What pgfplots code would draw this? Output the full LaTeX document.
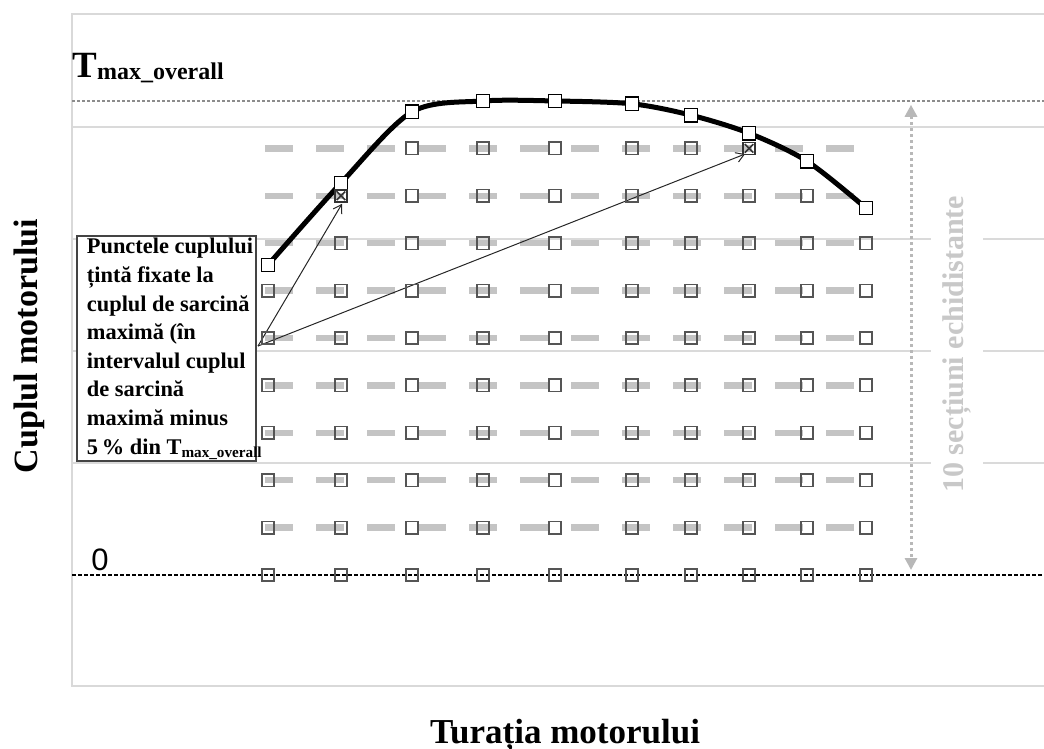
\documentclass[border=0pt]{standalone}
\usepackage{pgfplots}
\pgfplotsset{compat=1.18}
\usepackage{fontspec}
\setmainfont{Liberation Serif}
\newfontfamily\sansf{Liberation Sans}
\usetikzlibrary{arrows.meta}
\definecolor{gridc}{HTML}{DADADA}
\definecolor{bordc}{HTML}{D9D9D9}
\definecolor{rowc}{HTML}{C4C4C4}
\definecolor{markc}{HTML}{555555}
\definecolor{tmaxc}{HTML}{8C8C8C}
\definecolor{dblc}{HTML}{B8B8B8}
\definecolor{txtgray}{HTML}{C8C8C8}
\definecolor{boxc}{HTML}{444444}
\begin{document}
\begin{tikzpicture}
\begin{axis}[
  at={(36pt,31.5pt)}, anchor=south west,
  scale only axis, width=486pt, height=336pt,
  xmin=0, xmax=972, ymin=-23.42, ymax=118.35,
  axis line style={draw=none},
  xtick=\empty, ytick={23.63,47.26,70.89,94.52}, yticklabels={},
  major tick length=0pt,
  ymajorgrids, grid style={line width=1pt, color=gridc},
  clip=false,
]
% plot area border
\draw[line width=1pt, bordc] (rel axis cs:1,1) -- (rel axis cs:0,1) -- (rel axis cs:0,0) -- (rel axis cs:1,0);

% T max line
\addplot[tmaxc, line width=1pt, dash pattern=on 1.5pt off 1pt] coordinates {(0,100) (972,100)};

% rows 1..9 (grey dashed lines)
\foreach \yy in {10,20,30,40,50,60,70,80,90}{
  \addplot[rowc, line width=3.2pt, dash pattern=on 14pt off 11.5pt] coordinates {(193,\yy) (794,\yy)};
}
% zero line
\addplot[black, line width=0.6pt, dash pattern=on 2pt off 1pt] coordinates {(0,0) (972,0)};

% row markers
\pgfplotsset{rowmk/.style={only marks, mark=square, mark size=3.1pt, mark options={draw=markc, line width=0.8pt, solid}}}
\addplot[rowmk] coordinates {(196,0) (269,0) (340,0) (411,0) (483,0) (560,0) (619,0) (677,0) (735,0) (794,0)};
\addplot[rowmk] coordinates {(196,10) (269,10) (340,10) (411,10) (483,10) (560,10) (619,10) (677,10) (735,10) (794,10)};
\addplot[rowmk] coordinates {(196,20) (269,20) (340,20) (411,20) (483,20) (560,20) (619,20) (677,20) (735,20) (794,20)};
\addplot[rowmk] coordinates {(196,30) (269,30) (340,30) (411,30) (483,30) (560,30) (619,30) (677,30) (735,30) (794,30)};
\addplot[rowmk] coordinates {(196,40) (269,40) (340,40) (411,40) (483,40) (560,40) (619,40) (677,40) (735,40) (794,40)};
\addplot[rowmk] coordinates {(196,50) (269,50) (340,50) (411,50) (483,50) (560,50) (619,50) (677,50) (735,50) (794,50)};
\addplot[rowmk] coordinates {(196,60) (269,60) (340,60) (411,60) (483,60) (560,60) (619,60) (677,60) (735,60) (794,60)};
\addplot[rowmk] coordinates {(269,70) (340,70) (411,70) (483,70) (560,70) (619,70) (677,70) (735,70) (794,70)};
\addplot[rowmk] coordinates {(340,80) (411,80) (483,80) (560,80) (619,80) (677,80) (735,80)};
\addplot[rowmk] coordinates {(340,90) (411,90) (483,90) (560,90) (619,90)};

% full load curve
\addplot[smooth, black, line width=2.5pt, mark=square*, mark size=3.3pt,
  mark options={fill=white, draw=black, line width=0.8pt, solid}]
  coordinates {(196,65.4) (269,82.7) (340,97.7) (411,100) (483,100) (560,99.4) (619,97.0) (677,93.2) (735,87.3) (794,77.4)};

% target points
\addplot[only marks, mark=square, mark size=3pt, mark options={draw=black!80, line width=0.8pt}] coordinates {(269,80) (677,90)};
\addplot[only marks, mark=x, mark size=3pt, mark options={draw=black!80, line width=0.8pt}] coordinates {(269,80) (677,90)};

% annotation box
\draw[fill=white, draw=boxc, line width=1pt] (axis cs:5,71.5) rectangle (axis cs:184,24.05);
\node[anchor=north west, inner sep=0pt, align=left, font={\fontsize{11.2}{14.3}\selectfont\bfseries}] at (axis cs:14.5,71.1)
 {Punctele cuplului\\țintă fixate la\\cuplul de sarcină\\maximă (în\\intervalul cuplul\\de sarcină\\maximă minus\\5\,\% din T\raisebox{-1.5pt}{\fontsize{7.6}{9}\selectfont max\_overall}};

% arrows
\draw[black!85, line width=0.5pt, -{Straight Barb[length=4pt,width=5pt]}] (axis cs:186,48.3) -- (axis cs:270,78.3);
\draw[black!85, line width=0.5pt, -{Straight Barb[length=4pt,width=5pt]}] (axis cs:186,48.3) -- (axis cs:673,88.8);

% double arrow
\draw[dblc, line width=1.5pt, dash pattern=on 1.5pt off 1.5pt, {Triangle[length=6pt,width=6pt]}-{Triangle[length=6pt,width=6pt]}] (axis cs:839,99.2) -- (axis cs:839,1.05);

% right text
\node[rotate=90, fill=white, text=txtgray, inner xsep=2pt, inner ysep=6pt, font={\fontsize{15}{18}\selectfont\bfseries}] at (axis cs:885,48.7) {10 secțiuni echidistante};

% labels
\node[anchor=base west, inner sep=0pt] at (axis cs:0,104.85) {\fontsize{18.5}{20}\selectfont\bfseries T\raisebox{-1pt}{\fontsize{12}{14}\selectfont max\_overall}};
\node[anchor=base west, inner sep=0pt, font={\sansf\fontsize{15.5}{18}\selectfont}] at (axis cs:19,1.05) {0};
\node[rotate=90, anchor=base, inner sep=0pt, font={\fontsize{17}{20}\selectfont\bfseries}] at (axis cs:-34.5,48.3) {Cuplul motorului};
\node[anchor=base, inner sep=0pt, font={\fontsize{17.5}{20}\selectfont\bfseries}] at (axis cs:493,-35.65) {Turația motorului};
\end{axis}
\pgfresetboundingbox
\path[use as bounding box] (0,0) rectangle (522pt,374.5pt);
\end{tikzpicture}
\end{document}
